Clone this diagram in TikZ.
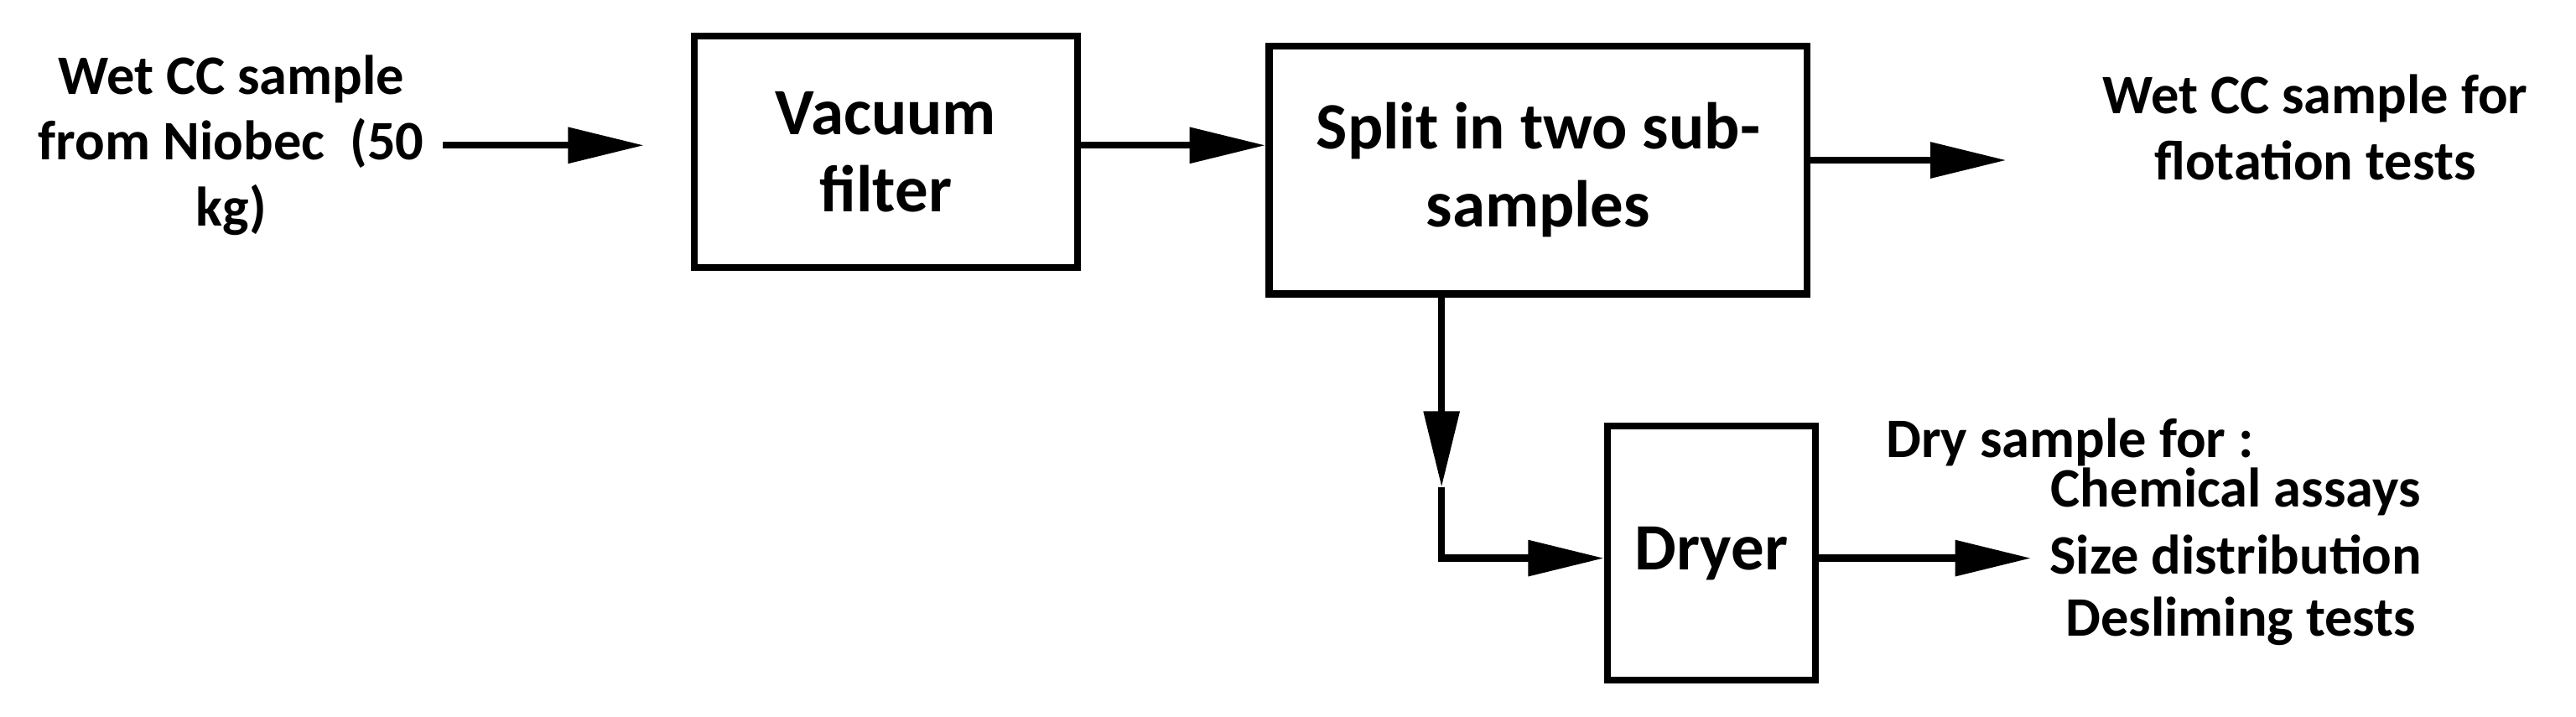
\documentclass[tikz,border=0pt]{standalone}
\usepackage{fontspec}
\setmainfont{Carlito}
\usetikzlibrary{arrows.meta}
\begin{document}
\begin{tikzpicture}[x=0.05cm,y=-0.05cm,
  txt/.style={font=\fontsize{48pt}{57pt}\selectfont\bfseries,align=center,inner sep=0pt},
  box/.style={draw,line width=6pt,txt,font=\fontsize{57pt}{67pt}\selectfont\bfseries},
  arr/.style={line width=6pt,-{Triangle[length=2.3cm,width=1.05cm]}}]
\useasboundingbox (0,0) rectangle (1560,433.7);
\node[txt] (in) at (140,88) {Wet CC sample\\from Niobec~ (50\\kg)};
\node[box,minimum width=11.6cm,minimum height=7cm] (vf) at (536.5,92) {Vacuum\\filter};
\node[box,minimum width=16.3cm,minimum height=7.5cm] (sp) at (931.5,103) {Split in two sub-\\samples};
\node[txt] (out) at (1402,77) {Wet CC sample for\\flotation tests};
\node[box,minimum width=6.3cm,minimum height=7.7cm] (dr) at (1036.5,335) {Dryer};
\node[txt,anchor=west] (dry) at (1142,268) {Dry sample for :};
\node[txt] (c1) at (1354,298) {Chemical assays};
\node[txt] (c2) at (1354,336) {Size distribution};
\node[txt] (c3) at (1357,376) {Desliming tests};
\coordinate (a1) at (268,88);
\coordinate (a1e) at (390,88);
\coordinate (o1) at (1215,97);
\coordinate (o2) at (1230,338);
\coordinate (m) at (873,295);
\coordinate (k) at (873,338);
\draw[arr] (a1) -- (a1e);
\draw[arr] (vf.east |- 0,88) -- (sp.west |- 0,88);
\draw[arr] (sp.east |- o1) -- (o1);
\draw[arr] (sp.south -| m) -- (m);
\draw[arr] (m) -- (k) -- (dr.west |- k);
\draw[arr] (dr.east |- o2) -- (o2);
\end{tikzpicture}
\end{document}
